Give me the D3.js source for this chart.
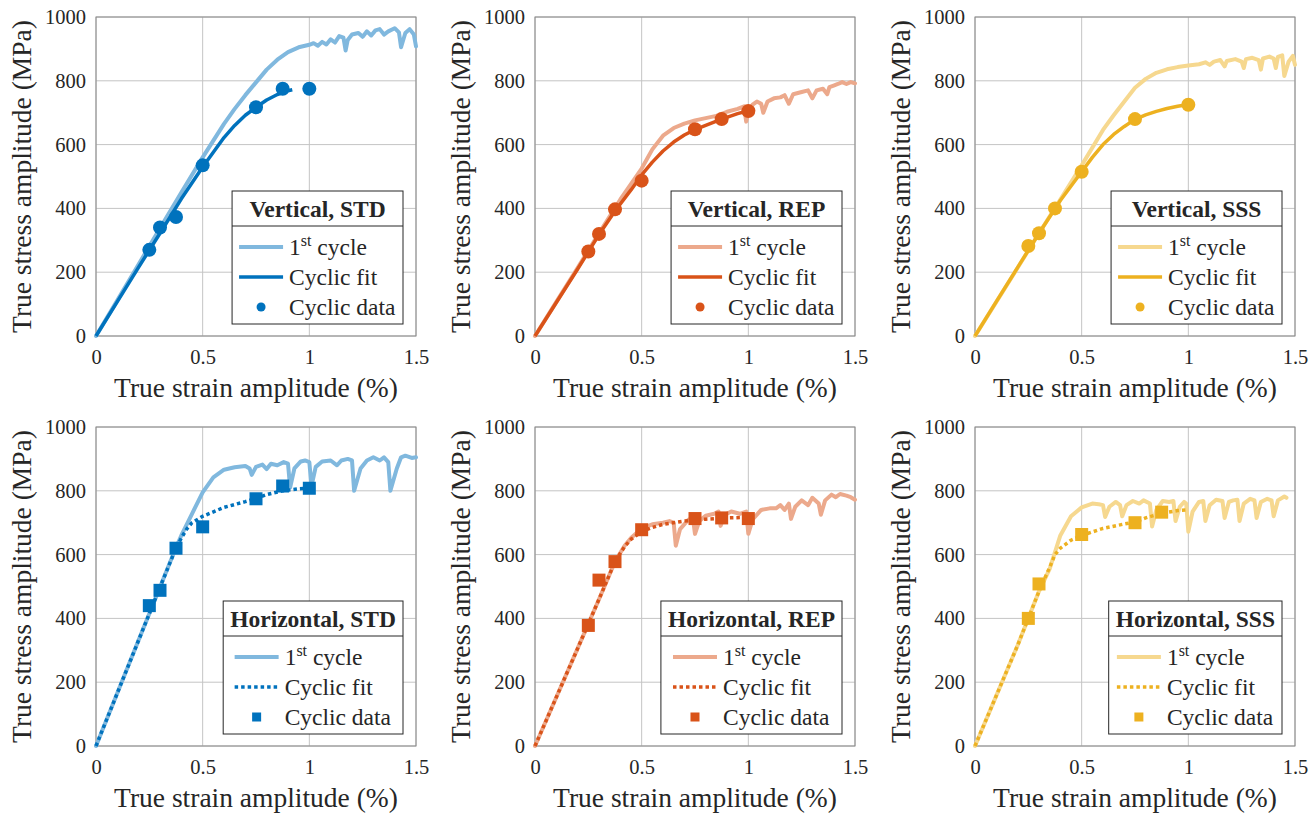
<!DOCTYPE html>
<meta charset="utf-8">
<script src="https://d3js.org/d3.v7.min.js"></script>
<style>
  body { margin: 0; background: #fff; }
  text { font-family: "Liberation Serif", serif; fill: #262626; }
</style>
<div id="chart"></div>
<script>

// axis ticks
var xTicks = [0, 0.5, 1, 1.5];
var yTicks = [0, 200, 400, 600, 800, 1000];

// panel titles
var titles = ["Vertical, STD", "Vertical, REP", "Vertical, SSS",
              "Horizontal, STD", "Horizontal, REP", "Horizontal, SSS"];

// colors (dark = cyclic, light = 1st cycle)
var darkColors  = ["#0072BD", "#D95319", "#EDB120"];
var lightColors = ["#80B8DE", "#ECA98C", "#F6D88F"];

// ---- Vertical, STD
var vStdFirst = [[0,0],[0.1,112],[0.2,225],[0.3,338],[0.4,450],[0.5,560],[0.6,665],[0.65,712],[0.7,755],[0.75,795],[0.8,835],[0.85,866],[0.9,890],[0.95,905],[1.0,913],[1.02,918],[1.04,910],[1.06,922],[1.08,914],[1.1,930],[1.12,920],[1.14,940],[1.16,935],[1.17,895],[1.18,928],[1.2,945],[1.23,950],[1.25,938],[1.27,955],[1.29,942],[1.31,958],[1.33,962],[1.35,945],[1.37,955],[1.4,965],[1.42,952],[1.43,905],[1.45,950],[1.47,962],[1.49,945],[1.5,908]];
var vStdFit = [[0,0],[0.1,108],[0.2,216],[0.3,322],[0.4,430],[0.5,530],[0.6,622],[0.65,660],[0.7,692],[0.75,717],[0.8,740],[0.85,757],[0.9,769],[0.92,772]];
var vStdPts = [[0.25,270],[0.3,340],[0.375,373],[0.5,535],[0.75,717],[0.875,775],[1.0,775]];

// ---- Vertical, REP
var vRepFirst = [[0,0],[0.1,107],[0.2,214],[0.3,322],[0.4,428],[0.5,525],[0.55,585],[0.6,628],[0.65,652],[0.7,666],[0.75,676],[0.8,683],[0.85,690],[0.9,703],[0.95,712],[0.98,720],[0.99,672],[1.0,700],[1.02,725],[1.04,735],[1.06,728],[1.07,700],[1.09,735],[1.12,745],[1.15,748],[1.17,755],[1.19,728],[1.21,758],[1.25,765],[1.28,770],[1.3,745],[1.32,770],[1.35,775],[1.37,758],[1.38,780],[1.4,785],[1.42,790],[1.44,796],[1.46,790],[1.48,796],[1.5,792]];
var vRepFit = [[0,0],[0.1,105],[0.2,210],[0.3,318],[0.375,392],[0.45,458],[0.5,505],[0.55,545],[0.6,580],[0.65,608],[0.7,630],[0.75,647],[0.8,660],[0.875,680],[0.95,697],[1.0,706],[1.03,712]];
var vRepPts = [[0.25,265],[0.3,320],[0.375,397],[0.5,487],[0.75,648],[0.875,680],[1.0,705]];

// ---- Vertical, SSS
var vSssFirst = [[0,0],[0.1,107],[0.2,214],[0.3,322],[0.4,428],[0.5,535],[0.6,646],[0.65,692],[0.7,735],[0.75,778],[0.8,806],[0.85,825],[0.9,836],[0.95,843],[1.0,848],[1.05,852],[1.08,858],[1.1,850],[1.12,860],[1.15,865],[1.17,845],[1.18,862],[1.22,868],[1.25,860],[1.26,840],[1.27,868],[1.3,872],[1.33,865],[1.34,835],[1.35,870],[1.38,876],[1.4,870],[1.41,840],[1.42,875],[1.44,880],[1.45,815],[1.47,860],[1.49,878],[1.5,850]];
var vSssFit = [[0,0],[0.1,108],[0.2,215],[0.3,322],[0.4,425],[0.5,515],[0.55,560],[0.6,600],[0.65,632],[0.7,657],[0.75,679],[0.8,693],[0.85,704],[0.9,713],[0.95,720],[1.0,726]];
var vSssPts = [[0.25,282],[0.3,322],[0.375,400],[0.5,515],[0.75,680],[1.0,725]];

// ---- Horizontal, STD
var hStdFirst = [[0,0],[0.1,166],[0.2,332],[0.3,498],[0.375,622],[0.4,660],[0.45,728],[0.5,795],[0.55,842],[0.6,866],[0.65,874],[0.7,878],[0.72,870],[0.73,850],[0.75,875],[0.78,882],[0.8,868],[0.82,885],[0.85,880],[0.88,890],[0.9,885],[0.91,810],[0.93,870],[0.96,892],[0.98,895],[1.0,890],[1.01,815],[1.03,875],[1.06,892],[1.1,895],[1.13,880],[1.15,895],[1.18,900],[1.2,895],[1.21,800],[1.24,870],[1.27,895],[1.3,905],[1.33,895],[1.35,905],[1.37,890],[1.38,800],[1.41,870],[1.43,905],[1.45,910],[1.48,903],[1.5,905]];
var hStdFit = [[0,0],[0.1,166],[0.2,332],[0.3,498],[0.375,620],[0.4,652],[0.425,680],[0.45,700],[0.5,720],[0.6,748],[0.7,766],[0.75,776],[0.8,788],[0.875,800],[0.95,806],[1.0,808]];
var hStdPts = [[0.25,440],[0.3,488],[0.375,620],[0.5,687],[0.75,775],[0.875,815],[1.0,808]];

// ---- Horizontal, REP
var hRepFirst = [[0,0],[0.1,153],[0.2,306],[0.3,460],[0.375,578],[0.42,628],[0.45,652],[0.5,682],[0.55,695],[0.6,700],[0.63,705],[0.65,700],[0.66,628],[0.68,680],[0.72,710],[0.74,715],[0.75,665],[0.77,705],[0.8,722],[0.84,728],[0.86,735],[0.87,690],[0.89,725],[0.92,735],[0.96,728],[0.99,735],[1.0,665],[1.02,710],[1.06,740],[1.1,745],[1.13,745],[1.15,755],[1.17,740],[1.19,760],[1.2,712],[1.22,750],[1.25,770],[1.28,755],[1.3,778],[1.33,760],[1.34,725],[1.36,770],[1.39,788],[1.41,780],[1.43,790],[1.46,785],[1.48,780],[1.5,772]];
var hRepFit = [[0,0],[0.1,153],[0.2,306],[0.3,460],[0.375,578],[0.42,625],[0.45,648],[0.5,672],[0.55,685],[0.6,695],[0.7,705],[0.8,711],[0.9,715],[1.0,717]];
var hRepPts = [[0.25,378],[0.3,520],[0.375,578],[0.5,678],[0.75,713],[0.875,715],[1.0,713]];

// ---- Horizontal, SSS
var hSssFirst = [[0,0],[0.1,158],[0.2,316],[0.3,485],[0.35,555],[0.4,660],[0.45,720],[0.5,748],[0.55,760],[0.58,758],[0.6,755],[0.61,718],[0.63,750],[0.66,765],[0.68,755],[0.69,720],[0.71,755],[0.74,768],[0.77,760],[0.79,770],[0.82,760],[0.83,688],[0.85,740],[0.88,768],[0.91,765],[0.93,768],[0.94,705],[0.96,750],[0.98,765],[0.99,760],[1.0,672],[1.02,735],[1.05,765],[1.07,768],[1.08,705],[1.1,755],[1.13,772],[1.16,768],[1.17,715],[1.19,765],[1.21,770],[1.23,772],[1.24,705],[1.26,760],[1.29,775],[1.31,770],[1.32,715],[1.34,765],[1.37,775],[1.39,770],[1.4,720],[1.42,770],[1.45,782],[1.46,778]];
var hSssFit = [[0,0],[0.1,158],[0.2,316],[0.25,400],[0.3,485],[0.35,560],[0.375,600],[0.4,620],[0.45,645],[0.5,660],[0.6,682],[0.7,696],[0.75,702],[0.8,715],[0.875,730],[0.95,738],[1.0,740]];
var hSssPts = [[0.25,400],[0.3,508],[0.5,663],[0.75,700],[0.875,733]];

var firsts = [vStdFirst, vRepFirst, vSssFirst, hStdFirst, hRepFirst, hSssFirst];
var fits   = [vStdFit, vRepFit, vSssFit, hStdFit, hRepFit, hSssFit];
var points = [vStdPts, vRepPts, vSssPts, hStdPts, hRepPts, hSssPts];

// layout
var W = 1316, H = 815;
var colX = [96, 535, 975], rowY = [17, 427];
var pw = 320, ph = 319;

var svg = d3.select("#chart").append("svg")
    .attr("width", W).attr("height", H);

var x = d3.scaleLinear().domain([0, 1.5]).range([0, pw]);
var y = d3.scaleLinear().domain([0, 1000]).range([ph, 0]);

var line = d3.line()
    .x(function(d) { return x(d[0]); })
    .y(function(d) { return y(d[1]); });

titles.forEach(function(title, i) {
  var col = i % 3, row = Math.floor(i / 3);
  var horizontal = row == 1;
  var dark = darkColors[col], light = lightColors[col];

  var g = svg.append("g")
      .attr("transform", "translate(" + colX[col] + "," + rowY[row] + ")");

  // grid
  g.selectAll(".gx").data(xTicks).enter().append("line")
      .attr("x1", function(d) { return x(d); }).attr("x2", function(d) { return x(d); })
      .attr("y1", 0).attr("y2", ph)
      .attr("stroke", "#c4c4c4").attr("stroke-width", 1);
  g.selectAll(".gy").data(yTicks).enter().append("line")
      .attr("y1", function(d) { return y(d); }).attr("y2", function(d) { return y(d); })
      .attr("x1", 0).attr("x2", pw)
      .attr("stroke", "#c4c4c4").attr("stroke-width", 1);

  // axes (labels only)
  var xa = g.append("g").attr("transform", "translate(0," + ph + ")")
      .call(d3.axisBottom(x).tickValues(xTicks).tickSize(0).tickPadding(13)
            .tickFormat(d3.format("~g")));
  var ya = g.append("g")
      .call(d3.axisLeft(y).tickValues(yTicks).tickSize(0).tickPadding(10)
            .tickFormat(d3.format("d")));
  [xa, ya].forEach(function(a) {
    a.select(".domain").remove();
    a.selectAll("text").attr("font-family", "Liberation Serif").attr("font-size", 20.5)
        .attr("fill", "#262626");
  });

  // box
  g.append("rect").attr("width", pw).attr("height", ph)
      .attr("fill", "none").attr("stroke", "#8a8a8a").attr("stroke-width", 1);

  // axis titles
  g.append("text").attr("x", pw / 2).attr("y", ph + 53).attr("dy", "0.3em")
      .attr("text-anchor", "middle").attr("font-size", 27.5)
      .text("True strain amplitude (%)");
  g.append("text")
      .attr("transform", "translate(-75," + (ph / 2) + ") rotate(-90)")
      .attr("dy", "0.35em")
      .attr("text-anchor", "middle").attr("font-size", 27.5)
      .text("True stress amplitude (MPa)");

  // 1st cycle
  g.append("path").datum(firsts[i])
      .attr("d", line).attr("fill", "none")
      .attr("stroke", light).attr("stroke-width", 4)
      .attr("stroke-linejoin", "round").attr("stroke-linecap", "round");

  // cyclic fit
  g.append("path").datum(fits[i])
      .attr("d", line).attr("fill", "none")
      .attr("stroke", dark).attr("stroke-width", 3.5)
      .attr("stroke-dasharray", horizontal ? "3.5,3" : null)
      .attr("stroke-linejoin", "round");

  // cyclic data
  if (horizontal) {
    g.selectAll(".pt").data(points[i]).enter().append("rect")
        .attr("x", function(d) { return x(d[0]) - 6.5; })
        .attr("y", function(d) { return y(d[1]) - 6.5; })
        .attr("width", 13).attr("height", 13).attr("fill", dark);
  } else {
    g.selectAll(".pt").data(points[i]).enter().append("circle")
        .attr("cx", function(d) { return x(d[0]); })
        .attr("cy", function(d) { return y(d[1]); })
        .attr("r", 7).attr("fill", dark);
  }

  // legend
  var lg = g.append("g");
  var box = lg.append("rect").attr("fill", "#fff")
      .attr("stroke", "#262626").attr("stroke-width", 1);
  var tt = lg.append("text").attr("font-weight", "bold").attr("font-size", 23.5)
      .attr("text-anchor", "middle").attr("fill", "#000").text(title);
  var names = ["1", "Cyclic fit", "Cyclic data"];
  var ent = lg.append("g");
  var texts = names.map(function(n, k) {
    var t = ent.append("text").attr("x", 50).attr("y", 20 + 30 * k)
        .attr("dy", "0.35em")
        .attr("font-size", 23.5).attr("fill", "#000").text(n);
    if (k == 0) {
      t.append("tspan").attr("dy", -9).attr("font-size", 16).text("st");
      t.append("tspan").attr("dy", 9).text(" cycle");
    }
    return t;
  });
  var textW = d3.max(texts, function(t) { return t.node().getBBox().width; });
  var entW = 50 + textW;
  var titleW = tt.node().getBBox().width;
  var lw = Math.max(entW + 14, titleW + 14), lh = 133;
  var ex = (lw - entW) / 2;
  ent.append("line").attr("x1", 0).attr("x2", 44).attr("y1", 20).attr("y2", 20)
      .attr("stroke", light).attr("stroke-width", 4);
  ent.append("line").attr("x1", 0).attr("x2", 44).attr("y1", 50).attr("y2", 50)
      .attr("stroke", dark).attr("stroke-width", 3.5)
      .attr("stroke-dasharray", horizontal ? "3.5,3" : null);
  if (horizontal) {
    ent.append("rect").attr("x", 22 - 4.5).attr("y", 80 - 4.5)
        .attr("width", 9).attr("height", 9).attr("fill", dark);
  } else {
    ent.append("circle").attr("cx", 22).attr("cy", 80).attr("r", 4.5).attr("fill", dark);
  }
  ent.attr("transform", "translate(" + ex + ",36)");
  box.attr("width", lw).attr("height", lh);
  tt.attr("x", lw / 2).attr("y", 26);
  lg.append("line").attr("x1", 0).attr("x2", lw).attr("y1", 35).attr("y2", 35)
      .attr("stroke", "#262626").attr("stroke-width", 1);
  lg.attr("transform", "translate(" + (pw - 13 - lw) + "," + (ph - 12 - lh) + ")");
});

</script>
